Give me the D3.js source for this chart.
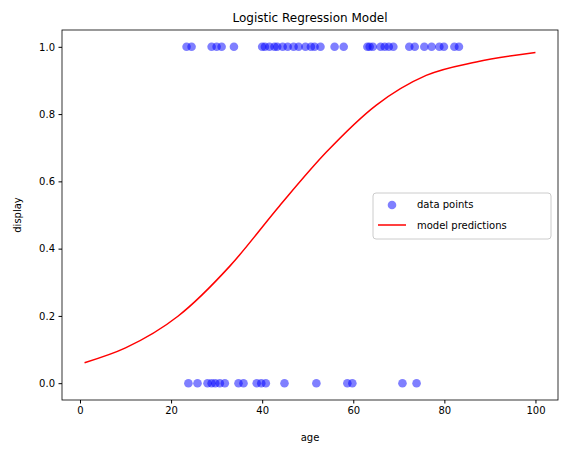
<!DOCTYPE html>
<html><head><meta charset="utf-8">
<script src="https://cdn.jsdelivr.net/npm/d3@7"></script>
<style>body{margin:0;background:#fff;font-family:"DejaVu Sans",sans-serif;}</style>
</head><body><div id="chart"></div>
<script>
const onesAge = [23.4,24.5,28.9,30.0,31.1,33.8,40.0,40.6,41.6,42.7,43.3,44.5,45.6,46.9,48.0,49.5,50.7,51.5,52.8,55.9,57.9,63.1,63.6,64.3,66.0,66.9,67.8,68.8,72.3,73.5,75.6,77.2,78.9,79.9,82.2,83.2];
const zerosAge = [23.8,25.8,28.0,28.9,29.7,30.7,31.8,34.8,35.9,38.8,39.8,40.8,44.9,51.9,58.7,59.8,70.8,73.9];
const predAge = [1,10,21.5,32.9,43.8,54.1,65,76,87,100];
const predProb = [0.061,0.105,0.199,0.348,0.527,0.687,0.826,0.915,0.955,0.983];
const yTicks = [0,0.2,0.4,0.6,0.8,1.0];
const xTicks = [0,20,40,60,80,100];

const W = 567, H = 453;
const margin = {top: 30, right: 9, bottom: 53, left: 62};
const svg = d3.select("#chart").append("svg").attr("width", W).attr("height", H);
const x = d3.scaleLinear().domain([-3.95, 104.95]).range([margin.left, W - margin.right]);
const y = d3.scaleLinear().domain([-0.05, 1.05]).range([H - margin.bottom, margin.top]);

svg.append("g").attr("transform", `translate(0,${H - margin.bottom})`)
    .call(d3.axisBottom(x).tickValues(xTicks).tickSize(3.5).tickPadding(3.5).tickFormat(d3.format("d")))
    .call(g => g.select(".domain").remove());
svg.append("g").attr("transform", `translate(${margin.left},0)`)
    .call(d3.axisLeft(y).tickValues(yTicks).tickSize(3.5).tickPadding(3.5).tickFormat(d3.format(".1f")))
    .call(g => g.select(".domain").remove());
svg.selectAll(".tick text").attr("font-size", 10).attr("fill", "#000").attr("font-family", "DejaVu Sans");
svg.selectAll(".tick line").attr("stroke", "#000");

const pts = onesAge.map(a => ({a, v: 1})).concat(zerosAge.map(a => ({a, v: 0})));
svg.append("g").selectAll("circle").data(pts).enter().append("circle")
    .attr("cx", d => x(d.a)).attr("cy", d => y(d.v)).attr("r", 4.3)
    .attr("fill", "blue").attr("fill-opacity", 0.5);

const line = d3.line().x(d => x(d[0])).y(d => y(d[1])).curve(d3.curveMonotoneX);
svg.append("path").datum(predAge.map((a, i) => [a, predProb[i]]))
    .attr("d", line).attr("fill", "none").attr("stroke", "red").attr("stroke-width", 1.5);

svg.append("rect").attr("x", margin.left).attr("y", margin.top)
    .attr("width", W - margin.left - margin.right).attr("height", H - margin.top - margin.bottom)
    .attr("fill", "none").attr("stroke", "#000").attr("stroke-width", 0.8);

svg.append("text").attr("x", (margin.left + W - margin.right) / 2).attr("y", 22)
    .attr("text-anchor", "middle").attr("font-size", 12).text("Logistic Regression Model");
svg.append("text").attr("x", (margin.left + W - margin.right) / 2).attr("y", 441)
    .attr("text-anchor", "middle").attr("font-size", 10).text("age");
svg.append("text").attr("transform", `translate(21,${(margin.top + H - margin.bottom) / 2}) rotate(-90)`)
    .attr("text-anchor", "middle").attr("font-size", 10).text("display");

// legend
const lg = svg.append("g").attr("transform", "translate(373,193)");
lg.append("rect").attr("width", 178).attr("height", 46).attr("rx", 3)
    .attr("fill", "#fff").attr("fill-opacity", 0.8).attr("stroke", "#ccc");
lg.append("circle").attr("cx", 19).attr("cy", 12).attr("r", 4.3).attr("fill", "blue").attr("fill-opacity", 0.5);
lg.append("text").attr("x", 44).attr("y", 15).attr("font-size", 10).text("data points");
lg.append("line").attr("x1", 5).attr("x2", 33).attr("y1", 32).attr("y2", 32).attr("stroke", "red").attr("stroke-width", 1.5);
lg.append("text").attr("x", 44).attr("y", 36).attr("font-size", 10).text("model predictions");
</script></body></html>
